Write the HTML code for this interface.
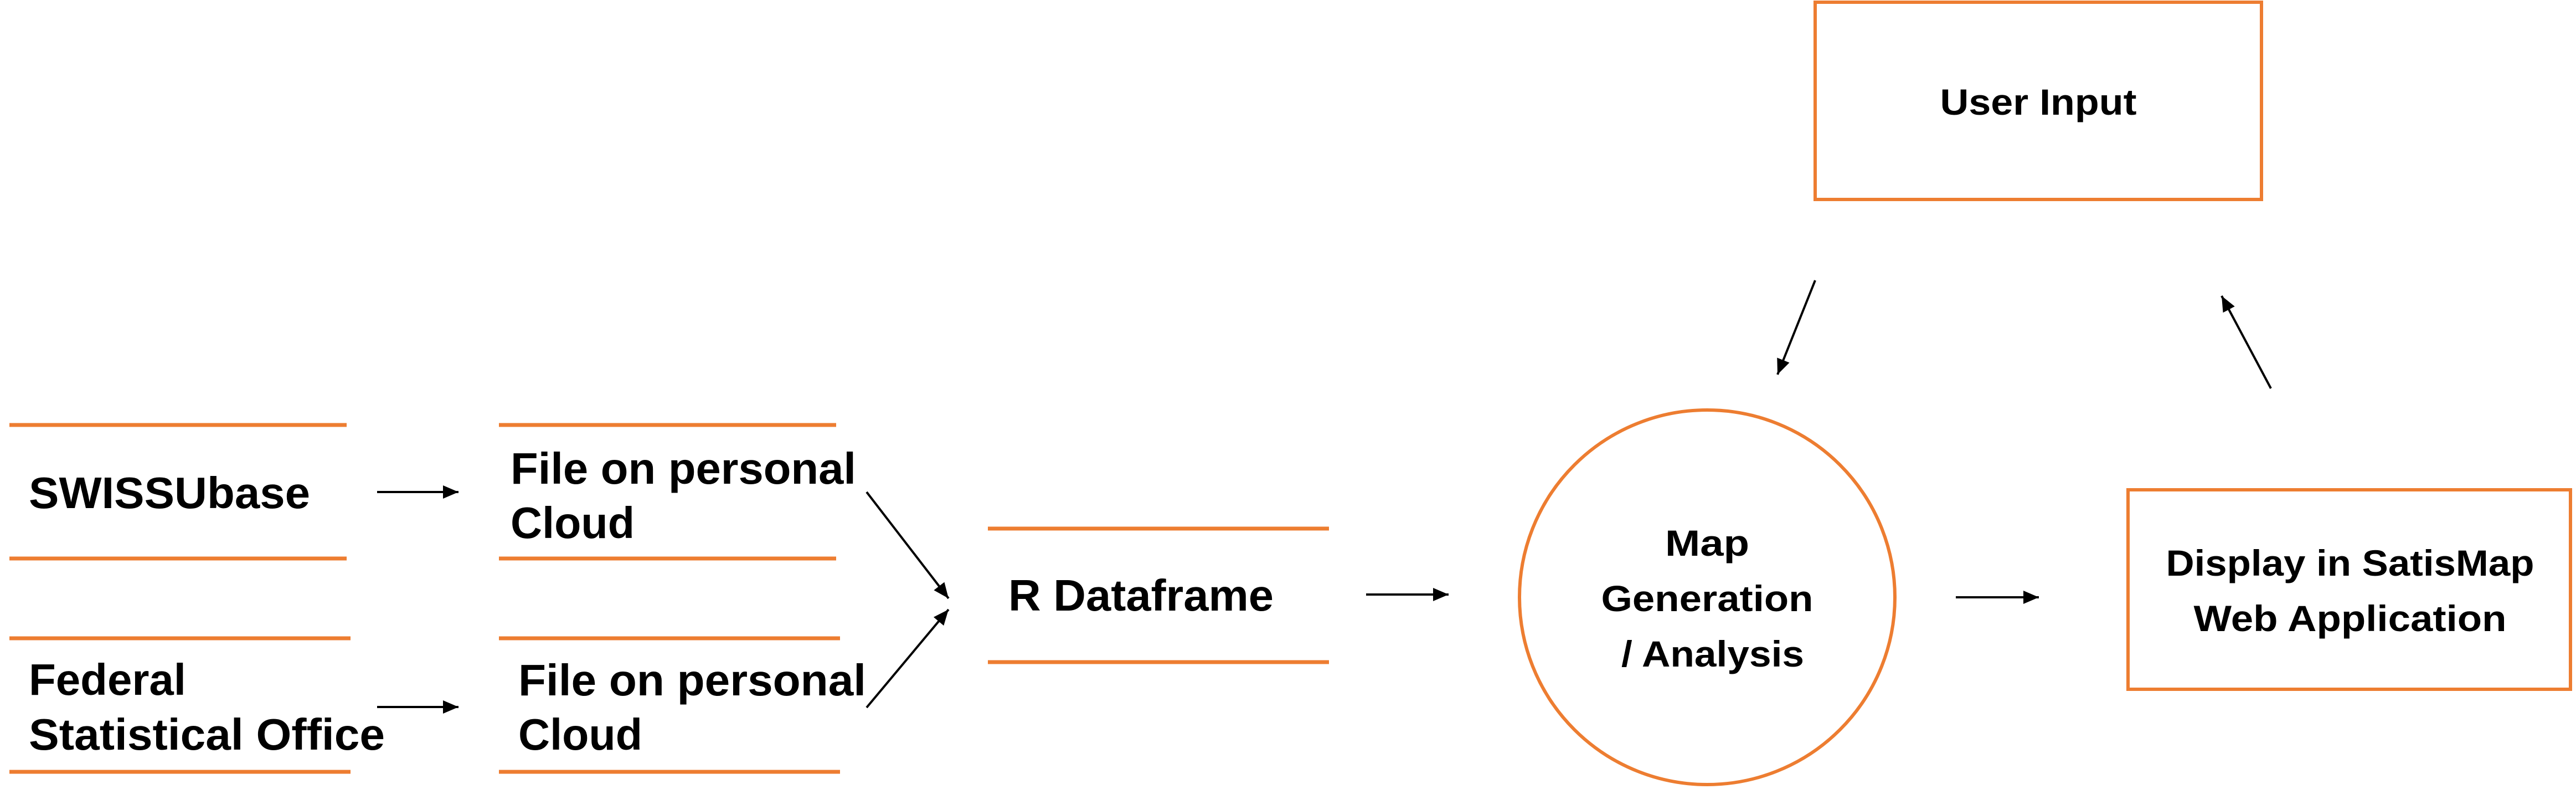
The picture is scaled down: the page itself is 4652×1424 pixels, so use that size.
<!DOCTYPE html>
<html><head><meta charset="utf-8"><style>
html,body{margin:0;padding:0;background:#fff;}
svg{display:block;}
text{font-family:"Liberation Sans",Arial,sans-serif;font-weight:bold;fill:#000;}
.c{font-family:"Liberation Sans Narrow","Liberation Sans",sans-serif;}
</style></head><body>
<svg width="4652" height="1424" viewBox="0 0 4652 1424" xmlns="http://www.w3.org/2000/svg">
<defs>
<marker id="a" markerWidth="28" markerHeight="24" refX="28" refY="12" orient="auto" markerUnits="userSpaceOnUse" viewBox="0 0 28 24">
<path d="M0,0 L28,12 L0,24 z" fill="#000"/>
</marker>
</defs>
<g stroke="#ED7D31" stroke-width="7">
<line x1="17" y1="767" x2="626" y2="767"/><line x1="17" y1="1008" x2="626" y2="1008"/>
<line x1="901" y1="767" x2="1510" y2="767"/><line x1="901" y1="1008" x2="1510" y2="1008"/>
<line x1="17" y1="1152" x2="633" y2="1152"/><line x1="17" y1="1393" x2="633" y2="1393"/>
<line x1="901" y1="1152" x2="1517" y2="1152"/><line x1="901" y1="1393" x2="1517" y2="1393"/>
<line x1="1784" y1="954" x2="2400" y2="954"/><line x1="1784" y1="1195" x2="2400" y2="1195"/>
</g>
<g fill="none" stroke="#ED7D31" stroke-width="6">
<rect x="3278" y="4" width="806" height="356"/>
<rect x="3843" y="884" width="799" height="360"/>
<ellipse cx="3083" cy="1078" rx="339" ry="338"/>
</g>
<g stroke="#000" stroke-width="4">
<line x1="681" y1="888" x2="828" y2="888" marker-end="url(#a)"/>
<line x1="681" y1="1276" x2="828" y2="1276" marker-end="url(#a)"/>
<line x1="1565" y1="888" x2="1713" y2="1080" marker-end="url(#a)"/>
<line x1="1565" y1="1277" x2="1713" y2="1100" marker-end="url(#a)"/>
<line x1="2467" y1="1073" x2="2616" y2="1073" marker-end="url(#a)"/>
<line x1="3532" y1="1078" x2="3682" y2="1078" marker-end="url(#a)"/>
<line x1="3278" y1="506" x2="3210" y2="676" marker-end="url(#a)"/>
<line x1="4101" y1="701" x2="4012" y2="534" marker-end="url(#a)"/>
</g>
<g font-size="80">
<text x="52" y="917" textLength="508" lengthAdjust="spacingAndGlyphs">SWISSUbase</text>
<text x="922" y="873" textLength="624" lengthAdjust="spacingAndGlyphs">File on personal</text>
<text x="922" y="971" textLength="224" lengthAdjust="spacingAndGlyphs">Cloud</text>
<text x="52" y="1254" textLength="284" lengthAdjust="spacingAndGlyphs">Federal</text>
<text x="52" y="1353" textLength="643" lengthAdjust="spacingAndGlyphs">Statistical Office</text>
<text x="936" y="1255" textLength="628" lengthAdjust="spacingAndGlyphs">File on personal</text>
<text x="936" y="1353" textLength="224" lengthAdjust="spacingAndGlyphs">Cloud</text>
<text x="1821" y="1102" textLength="479" lengthAdjust="spacingAndGlyphs">R Dataframe</text>
</g>
<g font-size="66" class="c" text-anchor="middle">
<text x="3681" y="207" textLength="355" lengthAdjust="spacingAndGlyphs">User Input</text>
<text x="3083" y="1003" textLength="152" lengthAdjust="spacingAndGlyphs">Map</text>
<text x="3083" y="1103" textLength="383" lengthAdjust="spacingAndGlyphs">Generation</text>
<text x="3093" y="1203" textLength="330" lengthAdjust="spacingAndGlyphs">/ Analysis</text>
<text x="4244" y="1039" textLength="665" lengthAdjust="spacingAndGlyphs">Display in SatisMap</text>
<text x="4244" y="1139" textLength="565" lengthAdjust="spacingAndGlyphs">Web Application</text>
</g>
</svg>
</body></html>
